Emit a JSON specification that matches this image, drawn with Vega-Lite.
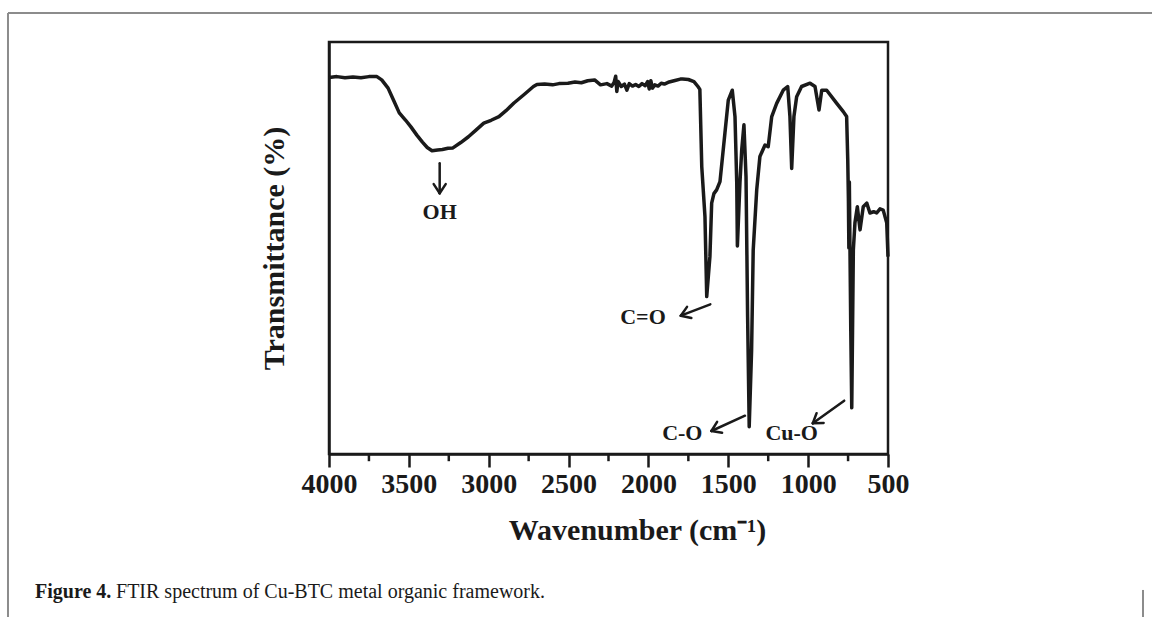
{
  "$schema": "https://vega.github.io/schema/vega-lite/v6.json",
  "width": 559,
  "height": 412,
  "autosize": {"type": "none"},
  "padding": {"left": 329, "top": 42, "right": 264, "bottom": 163},
  "background": "white",
  "config": {"view": {"stroke": "#1a1a1a", "strokeWidth": 2.5}, "font": "Liberation Serif"},
  "datasets": {
    "spectrum": [
      {"wn":4000,"t":91.4},{"wn":3950,"t":91.6},{"wn":3900,"t":91.3},{"wn":3850,"t":91.5},{"wn":3800,"t":91.3},{"wn":3750,"t":91.6},{"wn":3700,"t":91.6},{"wn":3670,"t":90.8},{"wn":3630,"t":88.8},{"wn":3595,"t":85.8},{"wn":3560,"t":82.8},{"wn":3520,"t":81.0},{"wn":3487,"t":79.4},{"wn":3450,"t":77.4},{"wn":3415,"t":75.7},{"wn":3385,"t":74.4},{"wn":3355,"t":73.6},{"wn":3320,"t":73.8},{"wn":3290,"t":73.9},{"wn":3255,"t":74.2},{"wn":3224,"t":74.3},{"wn":3175,"t":75.6},{"wn":3127,"t":77.0},{"wn":3080,"t":78.6},{"wn":3031,"t":80.3},{"wn":2985,"t":81.0},{"wn":2936,"t":81.9},{"wn":2890,"t":83.4},{"wn":2842,"t":85.2},{"wn":2780,"t":87.2},{"wn":2720,"t":89.2},{"wn":2698,"t":89.7},{"wn":2650,"t":89.8},{"wn":2600,"t":89.6},{"wn":2560,"t":89.9},{"wn":2504,"t":90.0},{"wn":2460,"t":90.3},{"wn":2420,"t":90.1},{"wn":2380,"t":90.6},{"wn":2337,"t":90.8},
      {"wn":2300,"t":89.6},{"wn":2260,"t":89.9},{"wn":2230,"t":89.3},{"wn":2215,"t":90.2},{"wn":2205,"t":91.7},{"wn":2198,"t":88.0},{"wn":2190,"t":90.4},{"wn":2170,"t":89.2},{"wn":2150,"t":89.8},{"wn":2135,"t":88.3},{"wn":2120,"t":89.9},{"wn":2100,"t":89.3},{"wn":2080,"t":89.7},{"wn":2060,"t":89.2},{"wn":2040,"t":89.9},{"wn":2020,"t":89.4},{"wn":2005,"t":90.4},{"wn":1995,"t":88.6},{"wn":1985,"t":90.6},{"wn":1975,"t":88.8},{"wn":1960,"t":89.6},{"wn":1940,"t":89.3},{"wn":1920,"t":90.0},{"wn":1900,"t":89.8},{"wn":1870,"t":90.3},{"wn":1840,"t":90.6},{"wn":1800,"t":91.0},{"wn":1786,"t":91.0},{"wn":1750,"t":90.9},{"wn":1715,"t":90.4},{"wn":1690,"t":89.2},{"wn":1678,"t":88.5},
      {"wn":1666,"t":69.7},{"wn":1646,"t":57.6},{"wn":1635,"t":38.2},{"wn":1615,"t":47.9},{"wn":1604,"t":60.9},{"wn":1590,"t":63.2},{"wn":1573,"t":64.1},{"wn":1552,"t":66.1},{"wn":1521,"t":77.9},{"wn":1500,"t":85.9},{"wn":1475,"t":88.3},{"wn":1458,"t":81.9},{"wn":1447,"t":65.8},{"wn":1443,"t":50.5},{"wn":1427,"t":65.8},{"wn":1416,"t":73.8},{"wn":1402,"t":79.9},{"wn":1389,"t":67.3},{"wn":1379,"t":33.3},{"wn":1369,"t":6.6},{"wn":1354,"t":25.2},{"wn":1344,"t":49.5},{"wn":1322,"t":64.1},{"wn":1302,"t":72.2},{"wn":1270,"t":75.0},{"wn":1250,"t":74.6},{"wn":1228,"t":81.9},{"wn":1197,"t":85.1},{"wn":1156,"t":88.3},{"wn":1128,"t":89.2},{"wn":1114,"t":81.9},{"wn":1103,"t":69.3},{"wn":1089,"t":81.9},{"wn":1072,"t":86.7},{"wn":1041,"t":89.2},{"wn":988,"t":90.0},{"wn":957,"t":89.2},{"wn":932,"t":83.5},{"wn":915,"t":88.3},{"wn":884,"t":88.3},{"wn":821,"t":85.1},{"wn":780,"t":83.1},{"wn":759,"t":81.9},{"wn":752,"t":71.4},{"wn":748,"t":62.0},{"wn":745,"t":50.0},{"wn":742,"t":66.0},{"wn":738,"t":49.5},{"wn":733,"t":30.0},{"wn":727,"t":11.2},{"wn":722,"t":30.0},{"wn":717,"t":49.5},{"wn":707,"t":56.1},{"wn":692,"t":60.0},{"wn":675,"t":54.4},{"wn":655,"t":60.0},{"wn":633,"t":60.9},{"wn":613,"t":58.5},{"wn":590,"t":58.8},{"wn":571,"t":58.5},{"wn":550,"t":59.5},{"wn":530,"t":59.2},{"wn":508,"t":56.1},{"wn":500,"t":47.9}
    ],
    "minorTicks": [
      {"wn":3750},{"wn":3250},{"wn":2750},{"wn":2250},{"wn":1750},{"wn":1250},{"wn":750}
    ],
    "labels": [
      {"label":"OH","wn":3307,"t":58.8},
      {"label":"C=O","wn":2034,"t":33.3},
      {"label":"C-O","wn":1788,"t":5.2},
      {"label":"Cu-O","wn":1103,"t":5.2}
    ],
    "arrows": [
      {"wn1":3307,"t1":70.6,"wn2":3307,"t2":63.3},
      {"wn1":3344.5,"t1":65.5,"wn2":3307,"t2":63.3},
      {"wn1":3269.3,"t1":65.5,"wn2":3307,"t2":63.3},
      {"wn1":1612.6,"t1":36.33,"wn2":1797.3,"t2":33.57},
      {"wn1":1758.3,"t1":35.71,"wn2":1797.3,"t2":33.57},
      {"wn1":1731.2,"t1":33.0,"wn2":1797.3,"t2":33.57},
      {"wn1":1395.3,"t1":9.3,"wn2":1605.7,"t2":5.58},
      {"wn1":1570.0,"t1":7.81,"wn2":1605.7,"t2":5.58},
      {"wn1":1538.8,"t1":5.16,"wn2":1605.7,"t2":5.58},
      {"wn1":774.2,"t1":12.94,"wn2":970.8,"t2":7.45},
      {"wn1":947.1,"t1":9.91,"wn2":970.8,"t2":7.45},
      {"wn1":903.1,"t1":7.55,"wn2":970.8,"t2":7.45}
    ]
  },
  "layer": [
    {
      "data": {"name": "spectrum"},
      "mark": {"type": "line", "color": "#1a1a1a", "strokeWidth": 3.5, "strokeJoin": "round"},
      "encoding": {
        "x": {
          "field": "wn", "type": "quantitative",
          "scale": {"domain": [4000, 500], "nice": false, "zero": false},
          "axis": {
            "title": "Wavenumber (cm⁻¹)",
            "values": [4000, 3500, 3000, 2500, 2000, 1500, 1000, 500],
            "format": "d",
            "tickSize": 13,
            "tickWidth": 2.5, "tickColor": "#1a1a1a",
            "domainWidth": 2.5, "domainColor": "#1a1a1a",
            "grid": false,
            "labelFont": "Liberation Serif", "labelFontWeight": "bold", "labelFontSize": 28, "labelColor": "#1a1a1a",
            "labelPadding": 3, "labelFlush": false, "labelOverlap": false,
            "titleFont": "Liberation Serif", "titleFontWeight": "bold", "titleFontSize": 30, "titleColor": "#1a1a1a",
            "titleX": 308, "titleY": 76, "titleBaseline": "middle", "titleAlign": "center"
          }
        },
        "y": {
          "field": "t", "type": "quantitative",
          "scale": {"domain": [0, 100], "nice": false, "zero": false},
          "axis": {
            "title": "Transmittance (%)",
            "ticks": false, "labels": false, "grid": false,
            "domainWidth": 2.5, "domainColor": "#1a1a1a",
            "titleFont": "Liberation Serif", "titleFontWeight": "bold", "titleFontSize": 30, "titleColor": "#1a1a1a",
            "titleX": -55, "titleY": 206, "titleBaseline": "middle", "titleAlign": "center", "titleAngle": -90
          }
        }
      }
    },
    {
      "data": {"name": "minorTicks"},
      "mark": {"type": "rule", "color": "#1a1a1a", "strokeWidth": 2.5},
      "encoding": {
        "x": {"field": "wn", "type": "quantitative"},
        "y": {"datum": 0, "type": "quantitative"},
        "y2": {"datum": -1.75}
      }
    },
    {
      "data": {"name": "arrows"},
      "mark": {"type": "rule", "color": "#1a1a1a", "strokeWidth": 2.5, "strokeCap": "round"},
      "encoding": {
        "x": {"field": "wn1", "type": "quantitative"},
        "x2": {"field": "wn2"},
        "y": {"field": "t1", "type": "quantitative"},
        "y2": {"field": "t2"}
      }
    },
    {
      "data": {"name": "labels"},
      "mark": {"type": "text", "font": "Liberation Serif", "fontWeight": "bold", "fontSize": 22, "color": "#1a1a1a", "align": "center", "baseline": "middle"},
      "encoding": {
        "x": {"field": "wn", "type": "quantitative"},
        "y": {"field": "t", "type": "quantitative"},
        "text": {"field": "label"}
      }
    },
    {
      "data": {"values": [{}]},
      "mark": {"type": "rule", "color": "#8c8c8c", "strokeWidth": 2},
      "encoding": {
        "x": {"datum": 6009.9, "type": "quantitative"},
        "x2": {"datum": -1160},
        "y": {"datum": 107.04, "type": "quantitative"}
      }
    },
    {
      "data": {"values": [{}]},
      "mark": {"type": "rule", "color": "#8c8c8c", "strokeWidth": 2},
      "encoding": {
        "x": {"datum": 6009.9, "type": "quantitative"},
        "y": {"datum": 107.04, "type": "quantitative"},
        "y2": {"datum": -40}
      }
    },
    {
      "data": {"values": [{}]},
      "mark": {"type": "rule", "color": "#8c8c8c", "strokeWidth": 2},
      "encoding": {
        "x": {"datum": -1096.6, "type": "quantitative"},
        "y": {"datum": -33.0, "type": "quantitative"},
        "y2": {"datum": -40}
      }
    },
    {
      "data": {"values": [{}]},
      "mark": {"type": "text", "font": "Liberation Serif", "fontWeight": "bold", "fontSize": 20, "color": "#1a1a1a", "align": "left", "baseline": "middle"},
      "encoding": {
        "x": {"datum": 5840.8, "type": "quantitative"},
        "y": {"datum": -33.5, "type": "quantitative"},
        "text": {"value": "Figure 4."}
      }
    },
    {
      "data": {"values": [{}]},
      "mark": {"type": "text", "font": "Liberation Serif", "fontSize": 20, "color": "#1a1a1a", "align": "left", "baseline": "middle"},
      "encoding": {
        "x": {"datum": 5333.6, "type": "quantitative"},
        "y": {"datum": -33.5, "type": "quantitative"},
        "text": {"value": "FTIR spectrum of Cu-BTC metal organic framework."}
      }
    }
  ]
}
